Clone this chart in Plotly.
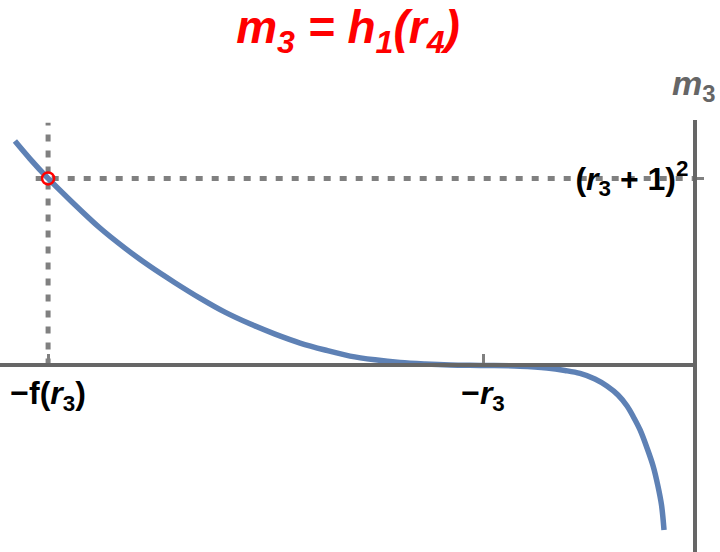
import plotly.graph_objects as go

# curve m3 = h1(r4) (units: r3 = 1, (r3+1)^2 = 4)
r4 = [-3.229, -3.157, -3.071, -2.967, -2.824, -2.705, -2.586, -2.467, -2.348,
      -2.229, -2.110, -1.990, -1.871, -1.752, -1.633, -1.514, -1.395, -1.276,
      -1.157, -1.0, -0.824, -0.695, -0.610, -0.538, -0.467, -0.410, -0.357,
      -0.314, -0.281, -0.252, -0.219, -0.190, -0.167, -0.150, -0.138]
m3 = [4.80, 4.42, 4.00, 3.54, 2.94, 2.51, 2.12, 1.77, 1.44,
      1.14, 0.89, 0.67, 0.48, 0.33, 0.20, 0.12, 0.064, 0.032,
      0.011, 0.0, -0.015, -0.054, -0.107, -0.171, -0.289, -0.439, -0.631,
      -0.867, -1.123, -1.380, -1.765, -2.150, -2.578, -2.984, -3.519]

neg_f_r3 = -3.071      # -f(r3)
neg_r3 = -1.0          # -r3
level = 4.0            # (r3 + 1)^2
hline_x = [-3.13, 0.0]
vline_y = [0.0, 5.19]

x_range = [-3.3, 0.0]
y_range = [-3.99, 5.25]

xtick_vals = [neg_f_r3, neg_r3]
xtick_text = ['<b>\u2212f(<i>r</i><sub>3</sub>)</b>', '<b>\u2212<i>r</i><sub>3</sub></b>']
ytick_vals = [level]
ytick_text = ['<b>(<i>r</i><sub>3</sub> + 1)<sup>2</sup></b>']

fnt = 'Liberation Sans, Arial, sans-serif'
dotted = dict(color='#808080', width=5, dash='7px,9px')

fig = go.Figure()
fig.add_trace(go.Scatter(x=hline_x, y=[level, level], mode='lines', line=dotted, hoverinfo='skip'))
fig.add_trace(go.Scatter(x=[neg_f_r3, neg_f_r3], y=vline_y, mode='lines', line=dotted, hoverinfo='skip'))
fig.add_trace(go.Scatter(x=r4, y=m3, mode='lines', line=dict(color='#5E81B5', width=5.5, shape='spline')))
fig.add_trace(go.Scatter(x=[neg_f_r3], y=[level], mode='markers',
                         marker=dict(symbol='circle-open', size=12, color='#ff0000', line=dict(width=2.5))))

fig.update_layout(
    width=720, height=552,
    margin=dict(l=0, r=27, t=120, b=0),
    paper_bgcolor='white', plot_bgcolor='white',
    showlegend=False,
    title=dict(text='<b><i>m<sub>3</sub> = h<sub>1</sub>(r<sub>4</sub>)</i></b>',
               font=dict(family=fnt, size=46, color='#ff0000'),
               xref='container', x=348 / 720, xanchor='center',
               yref='container', y=1 - 27 / 552, yanchor='middle'),
    xaxis=dict(range=x_range, showgrid=False, zeroline=False, automargin=False,
               showline=True, linecolor='#666666', linewidth=4,
               anchor='free', position=(0 - y_range[0]) / (y_range[1] - y_range[0]),
               ticks='inside', ticklen=9, tickwidth=3, tickcolor='#808080',
               tickvals=xtick_vals, ticktext=xtick_text, ticklabelstandoff=-2,
               tickfont=dict(family=fnt, size=32, color='black')),
    yaxis=dict(range=y_range, showgrid=False, zeroline=False, side='right', automargin=False,
               showline=True, linecolor='#666666', linewidth=4,
               ticks='outside', ticklen=7, tickwidth=3, tickcolor='#808080',
               tickvals=ytick_vals, ticktext=ytick_text, ticklabelposition='inside',
               ticklabelstandoff=8,
               tickfont=dict(family=fnt, size=32, color='black')),
)

fig.add_annotation(text='<b><i>m</i><sub>3</sub></b>', xref='x', x=0, yref='paper', y=1,
                   yanchor='middle', yshift=35, showarrow=False,
                   font=dict(family=fnt, size=34, color='#666666'))

fig.write_html('out.html', config={'displayModeBar': False},
               post_script="document.body.style.margin='0';")
